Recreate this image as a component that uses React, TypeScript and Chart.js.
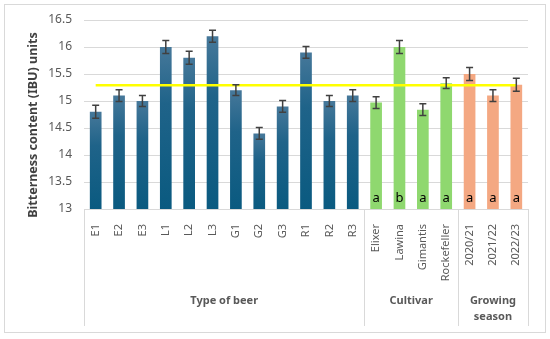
import React, { useEffect, useRef } from "react";
import { Chart, registerables } from "chart.js";

Chart.register(...registerables);

const categories = [
  "E1", "E2", "E3", "L1", "L2", "L3", "G1", "G2", "G3", "R1", "R2", "R3",
  "Elixer", "Lawina", "Gimantis", "Rockefeller",
  "2020/21", "2021/22", "2022/23",
];
const values = [
  14.8, 15.1, 15.0, 16.0, 15.8, 16.2, 15.2, 14.4, 14.9, 15.9, 15.0, 15.1,
  14.97, 16.0, 14.84, 15.33,
  15.5, 15.1, 15.3,
];
const errors = [
  0.12, 0.11, 0.1, 0.12, 0.12, 0.11, 0.1, 0.11, 0.11, 0.11, 0.1, 0.11,
  0.11, 0.12, 0.11, 0.1,
  0.12, 0.11, 0.12,
];
const letters = ["", "", "", "", "", "", "", "", "", "", "", "", "a", "b", "a", "a", "a", "a", "a"];
const meanValue = 15.29;
const meanLine = categories.map(() => meanValue);
const groupLabels = [["Type of beer"], ["Cultivar"], ["Growing", "season"]];
const groupSizes = [12, 4, 3];
const groupColors = ["blue", "#8fd86f", "#f4a882"];
const yTicks = { min: 13, max: 16.5, step: 0.5 };

const FONT = "'Noto Sans', 'DejaVu Sans', sans-serif";

function groupOf(i: number): number {
  let acc = 0;
  for (let g = 0; g < groupSizes.length; g++) {
    acc += groupSizes[g];
    if (i < acc) return g;
  }
  return groupSizes.length - 1;
}

const extrasPlugin = {
  id: "extras",
  afterDatasetsDraw(chart: any) {
    const ctx = chart.ctx;
    const y = chart.scales.y;
    const meta = chart.getDatasetMeta(0);
    const area = chart.chartArea;
    ctx.save();
    // error bars
    ctx.strokeStyle = "#404040";
    ctx.lineWidth = 1.5;
    meta.data.forEach((bar: any, i: number) => {
      const x = bar.x;
      const yTop = y.getPixelForValue(values[i] + errors[i]);
      const yBot = y.getPixelForValue(values[i] - errors[i]);
      ctx.beginPath();
      ctx.moveTo(x, yTop);
      ctx.lineTo(x, yBot);
      ctx.moveTo(x - 3.5, yTop);
      ctx.lineTo(x + 3.5, yTop);
      ctx.moveTo(x - 3.5, yBot);
      ctx.lineTo(x + 3.5, yBot);
      ctx.stroke();
    });
    // letters
    ctx.fillStyle = "#000000";
    ctx.font = `13px ${FONT}`;
    ctx.textAlign = "center";
    ctx.textBaseline = "middle";
    meta.data.forEach((bar: any, i: number) => {
      if (letters[i]) ctx.fillText(letters[i], bar.x, area.bottom - 11);
    });
    ctx.restore();
  },
  afterDraw(chart: any) {
    const ctx = chart.ctx;
    const area = chart.chartArea;
    const n = categories.length;
    const step = (area.right - area.left) / n;
    ctx.save();
    // group dividers
    ctx.strokeStyle = "#d9d9d9";
    ctx.lineWidth = 1;
    const bottom = 326;
    let idx = 0;
    const edges = [0];
    groupSizes.forEach((s) => {
      idx += s;
      edges.push(idx);
    });
    edges.forEach((e) => {
      const x = Math.round(area.left + e * step) + 0.5;
      ctx.beginPath();
      ctx.moveTo(x, area.bottom);
      ctx.lineTo(x, bottom);
      ctx.stroke();
    });
    // group labels
    ctx.fillStyle = "#595959";
    ctx.font = `bold 11px ${FONT}`;
    ctx.textAlign = "center";
    ctx.textBaseline = "middle";
    for (let g = 0; g < groupLabels.length; g++) {
      const cx = area.left + ((edges[g] + edges[g + 1]) / 2) * step;
      const lines = groupLabels[g];
      lines.forEach((t, k) => {
        ctx.fillText(t, cx, 301 + k * 16);
      });
    }
    // y axis title
    ctx.save();
    ctx.translate(33, 125);
    ctx.rotate(-Math.PI / 2);
    ctx.fillStyle = "#404040";
    ctx.font = `bold 12.5px ${FONT}`;
    ctx.textAlign = "center";
    ctx.textBaseline = "middle";
    ctx.fillText("Bitterness content (IBU) units", 0, 0);
    ctx.restore();
    // outer border
    ctx.strokeStyle = "#d9d9d9";
    ctx.lineWidth = 1;
    ctx.strokeRect(4.5, 4.5, 541, 328);
    ctx.restore();
  },
};

function barColor(context: any) {
  const i = context.dataIndex;
  const g = groupOf(i);
  if (g !== 0) return groupColors[g];
  const chart = context.chart;
  const area = chart.chartArea;
  const ys = chart.scales.y;
  if (!area || !ys) return "#1b6186";
  const top = ys.getPixelForValue(values[i]);
  const grad = chart.ctx.createLinearGradient(0, top, 0, area.bottom);
  grad.addColorStop(0, "#46789a");
  grad.addColorStop(0.35, "#1f6389");
  grad.addColorStop(1, "#0a5a80");
  return grad;
}

export default function App() {
  const ref = useRef<HTMLCanvasElement | null>(null);
  useEffect(() => {
    if (!ref.current) return;
    const chart = new Chart(ref.current, {
      type: "bar",
      data: {
        labels: categories,
        datasets: [
          {
            type: "bar",
            data: values,
            backgroundColor: barColor,
            barPercentage: 0.5,
            categoryPercentage: 1,
            order: 2,
          } as any,
          {
            type: "line",
            data: meanLine,
            borderColor: "#ffff00",
            borderWidth: 2.5,
            pointRadius: 0,
            fill: false,
            order: 1,
          } as any,
        ],
      },
      options: {
        animation: false,
        responsive: false,
        devicePixelRatio: 1,
        layout: { padding: { top: 20, right: 22, left: 0, bottom: 0 } },
        plugins: {
          legend: { display: false },
          tooltip: { enabled: false },
        },
        scales: {
          x: {
            grid: { display: false },
            border: { display: false },
            ticks: {
              autoSkip: false,
              maxRotation: 90,
              minRotation: 90,
              padding: 7,
              color: "#595959",
              font: { family: FONT, size: 11 },
            },
            afterFit: (scale: any) => {
              scale.height = 130;
            },
          },
          y: {
            min: yTicks.min,
            max: yTicks.max,
            grid: { color: "#d9d9d9", drawTicks: false, lineWidth: 1 },
            border: { display: false },
            ticks: {
              stepSize: yTicks.step,
              padding: 12,
              color: "#595959",
              font: { family: FONT, size: 12 },
              callback: (v: any) => String(Math.round(Number(v) * 10) / 10),
            },
            afterFit: (scale: any) => {
              scale.width = 84;
            },
          },
        },
      },
      plugins: [extrasPlugin],
    });
    return () => chart.destroy();
  }, []);
  return (
    <div style={{ position: "absolute", left: 0, top: 0, width: 550, height: 339, background: "#fff" }}>
      <canvas ref={ref} width={550} height={339} />
    </div>
  );
}
